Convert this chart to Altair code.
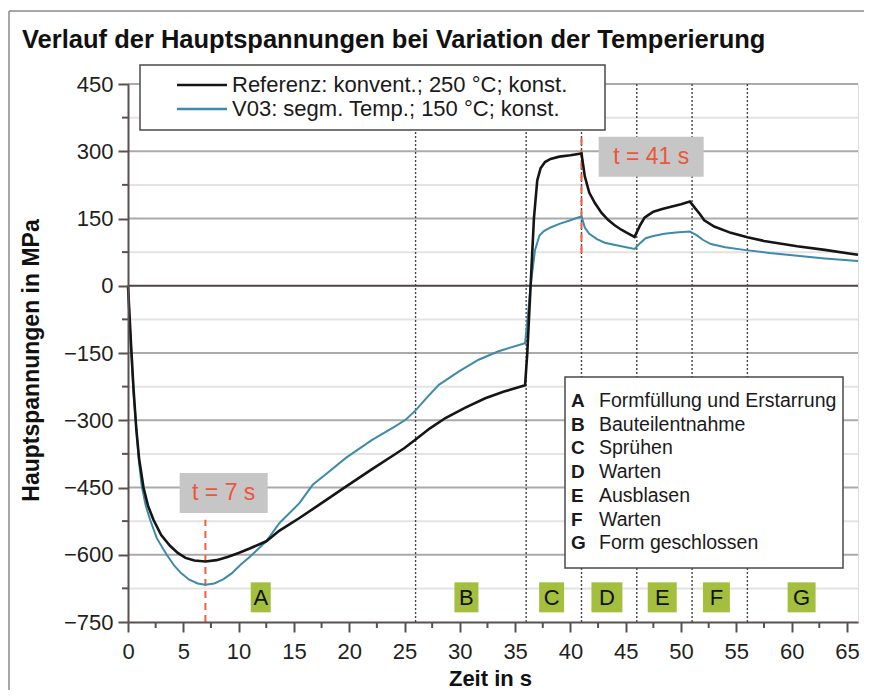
import altair as alt
import pandas as pd

FONT = "Liberation Sans"
AX = "#5a5050"

# ---------------- data ----------------
title_text = "Verlauf der Hauptspannungen bei Variation der Temperierung"
x_title = "Zeit in s"
y_title = "Hauptspannungen in MPa"
series_names = ["Referenz: konvent.; 250 °C; konst.", "V03: segm. Temp.; 150 °C; konst."]
series_colors = ["#151515", "#3d8aab"]

t_ref = [0, 0.25, 0.5, 0.75, 1.0, 1.4, 1.8, 2.3, 3.0, 3.8, 4.5, 5.2, 6.0, 7.0, 8.0, 9.0,
         10.0, 11.0, 12.5, 13.7, 15.5, 17.5, 19.7, 22.0, 24.0, 25.0, 26.0, 27.3, 28.7,
         30.5, 32.3, 34.0, 35.9, 36.1, 36.4, 36.7, 37.0, 37.3, 37.7, 38.2, 39.0, 40.0,
         41.0, 41.3, 41.7, 42.2, 42.8, 43.4, 44.0, 44.6, 45.2, 45.8, 46.3, 46.7, 47.0,
         47.5, 48.3, 49.1, 50.0, 50.8, 51.3, 51.7, 52.1, 53.0, 54.5, 56.0, 57.5, 60.5,
         63.0, 65.5, 66.0]
s_ref = [0, -120, -230, -320, -385, -450, -490, -522, -556, -580, -596, -607, -613, -615,
         -612, -605, -596, -586, -570, -546, -518, -485, -448, -410, -378, -362, -343,
         -318, -295, -272, -251, -236, -222, -150, 0, 150, 235, 262, 276, 283, 288, 291,
         295, 244, 208, 185, 163, 147, 135, 125, 117, 109, 135, 152, 157, 165, 171, 176,
         182, 188, 172, 160, 146, 132, 118, 108, 100, 88, 80, 71, 69]

t_v03 = [0, 0.25, 0.5, 0.7, 1.0, 1.25, 1.6, 2.0, 2.6, 3.5, 4.2, 4.8, 5.5, 6.3, 7.0, 7.8,
         8.6, 9.4, 10.2, 11.0, 12.5, 13.7, 15.5, 16.7, 18.0, 19.7, 22.0, 24.0, 25.1, 26.0,
         27.0, 28.1, 30.0, 31.7, 33.5, 35.9, 36.1, 36.4, 36.8, 37.2, 37.6, 38.2, 39.0,
         40.0, 41.0, 41.3, 41.7, 42.4, 43.1, 44.6, 45.8, 46.3, 46.8, 47.5, 48.5, 49.5,
         50.8, 51.4, 52.0, 52.7, 54.0, 55.7, 58.0, 60.5, 63.0, 66.0]
s_v03 = [0, -130, -240, -300, -395, -448, -490, -522, -563, -600, -625, -641, -655, -664,
         -667, -664, -655, -641, -622, -605, -570, -529, -485, -444, -418, -384, -345,
         -316, -299, -278, -250, -221, -190, -165, -146, -128, -80, 0, 80, 112, 122, 130,
         138, 146, 155, 130, 116, 104, 96, 88, 82, 95, 106, 111, 116, 119, 121, 113, 102,
         93, 86, 80, 73, 67, 61, 55]

phase_letters = ["A", "B", "C", "D", "E", "F", "G"]
phase_names = ["Formfüllung und Erstarrung", "Bauteilentnahme", "Sprühen", "Warten",
               "Ausblasen", "Warten", "Form geschlossen"]
phase_label_t = [12.0, 30.6, 38.3, 43.3, 48.3, 53.2, 60.9]
phase_label_value = -695
phase_bounds = [26, 36, 41, 46, 51, 56]

marker_t = [7, 41]
marker_from = [-750, 73]
marker_to = [-522, 333]
marker_text = ["t = 7 s", "t = 41 s"]
marker_label_t = [8.65, 47.3]
marker_label_value = [-462, 288]

x_ticks = [0, 5, 10, 15, 20, 25, 30, 35, 40, 45, 50, 55, 60, 65]
x_minor = [2.5, 7.5, 12.5, 17.5, 22.5, 27.5, 32.5, 37.5, 42.5, 47.5, 52.5, 57.5, 62.5]
y_ticks = [-750, -600, -450, -300, -150, 0, 150, 300, 450]
y_grid_major = [-600, -450, -300, -150, 150, 300, 450]
y_minor = [-675, -525, -375, -225, -75, 75, 225, 375]

# ---------------- layout ----------------
W, H = 730, 538
xs = alt.Scale(domain=[0, 66], nice=False, zero=False)
ys = alt.Scale(domain=[-750, 450], nice=False, zero=False)

x_axis = alt.Axis(values=x_ticks, title=x_title, grid=False, domainColor=AX, domainWidth=2,
                  tickColor=AX, tickWidth=2, tickSize=10, labelFont=FONT, labelFontSize=22,
                  labelColor="#231f20", labelPadding=9, labelFlush=False, labelOverlap=False,
                  titleFont=FONT, titleFontSize=22, titleFontWeight="bold", titleColor="#111",
                  titleX=362, titleY=63, titleAlign="center", titleBaseline="alphabetic",
                  zindex=1)
y_axis = alt.Axis(values=y_ticks, title=y_title, grid=False, domainColor=AX, domainWidth=2,
                  tickColor=AX, tickWidth=2, tickSize=10, labelFont=FONT, labelFontSize=22,
                  labelColor="#231f20", labelPadding=5, labelOverlap=False,
                  titleFont=FONT, titleFontSize=23, titleFontWeight="bold", titleColor="#111",
                  titleAngle=270, titleX=-90, titleY=276, titleAlign="center",
                  titleBaseline="alphabetic", zindex=1)


def X(f):
    return alt.X(f, type="quantitative", scale=xs, axis=x_axis, title=x_title)


def Y(f):
    return alt.Y(f, type="quantitative", scale=ys, axis=y_axis, title=y_title)


one = pd.DataFrame({"k": [0]})

df_ref = pd.DataFrame({"t": t_ref, "s": s_ref})
df_v03 = pd.DataFrame({"t": t_v03, "s": s_v03})
df_gmaj = pd.DataFrame({"v": y_grid_major})
df_gmin = pd.DataFrame({"v": y_minor})
df_zero = pd.DataFrame({"v": [0]})
df_bounds = pd.DataFrame({"t": phase_bounds})
df_mark = pd.DataFrame({"t": marker_t, "a": marker_from, "b": marker_to})
df_xminor = pd.DataFrame({"t": x_minor})
df_yminor = pd.DataFrame({"v": y_minor})
df_phase = pd.DataFrame({"t": phase_label_t, "v": [phase_label_value] * 7, "L": phase_letters})

box_half = {"A": 0.667, "B": 0.8, "C": 0.833, "D": 1.033, "E": 0.967, "F": 0.9, "G": 0.933}
box_paths = [f"M-{box_half[k]},-1L{box_half[k]},-1L{box_half[k]},1L-{box_half[k]},1Z" for k in phase_letters]

layers = []

# outer frame (top and left edges only; the rest lies outside the picture)
layers.append(alt.Chart(one).mark_rule(color="#8a8a8a", strokeWidth=1.5).encode(
    x=alt.value(-119), x2=alt.value(736), y=alt.value(-73)))
layers.append(alt.Chart(one).mark_rule(color="#8a8a8a", strokeWidth=1.5).encode(
    x=alt.value(-119), y=alt.value(-73), y2=alt.value(620)))

# grid
layers.append(alt.Chart(df_gmin).mark_rule(color="#e3e3e3", strokeWidth=2).encode(y=Y("v")))
layers.append(alt.Chart(df_gmaj).mark_rule(color="#aaaaaa", strokeWidth=2.2).encode(y=Y("v")))
layers.append(alt.Chart(df_zero).mark_rule(color="#4d4545", strokeWidth=2).encode(y=Y("v")))

# phase boundaries
layers.append(alt.Chart(df_bounds).mark_rule(color="#444", strokeWidth=1.4, strokeDash=[2, 2]).encode(
    x=X("t")))

# red time markers
layers.append(alt.Chart(df_mark).mark_rule(color="#f0603c", strokeWidth=2, strokeDash=[7, 5]).encode(
    x=X("t"), y=Y("a"), y2="b"))

# minor ticks
layers.append(alt.Chart(df_xminor).mark_rule(color=AX, strokeWidth=2).encode(
    x=X("t"), y=alt.value(H), y2=alt.value(H + 6)))
layers.append(alt.Chart(df_yminor).mark_rule(color=AX, strokeWidth=2).encode(
    y=Y("v"), x=alt.value(-6), x2=alt.value(0)))

# gray marker label boxes
df_m0 = pd.DataFrame({"t": [marker_label_t[0]], "v": [marker_label_value[0]]})
df_m1 = pd.DataFrame({"t": [marker_label_t[1]], "v": [marker_label_value[1]]})
layers.append(alt.Chart(df_m0).mark_point(shape="M-2.2,-1L2.2,-1L2.2,1L-2.2,1Z", size=1600, filled=True,
                                          color="#c6c6c6", opacity=1, strokeWidth=0).encode(x=X("t"), y=Y("v")))
layers.append(alt.Chart(df_m1).mark_point(shape="M-2.625,-1L2.625,-1L2.625,1L-2.625,1Z", size=1600,
                                          filled=True, color="#c6c6c6", opacity=1, strokeWidth=0).encode(
    x=X("t"), y=Y("v")))
df_mt = pd.DataFrame({"t": marker_label_t, "v": marker_label_value, "s": marker_text})
layers.append(alt.Chart(df_mt).mark_text(font=FONT, fontSize=23, color="#ee553a", baseline="middle",
                                         align="center").encode(x=X("t"), y=Y("v"), text="s:N"))

# green phase boxes
layers.append(alt.Chart(df_phase).mark_point(size=900, filled=True, color="#a3bf3d", opacity=1,
                                             strokeWidth=0).encode(
    x=X("t"), y=Y("v"),
    shape=alt.Shape("L:N", scale=alt.Scale(domain=phase_letters, range=box_paths), legend=None)))
layers.append(alt.Chart(df_phase).mark_text(font=FONT, fontSize=22, color="#111", baseline="middle",
                                            align="center", dy=1).encode(x=X("t"), y=Y("v"), text="L:N"))

# lines
layers.append(alt.Chart(df_v03).mark_line(color=series_colors[1], strokeWidth=2).encode(
    x=X("t"), y=Y("s")))
layers.append(alt.Chart(df_ref).mark_line(color=series_colors[0], strokeWidth=2.6).encode(
    x=X("t"), y=Y("s")))

# legend 1 (series)
layers.append(alt.Chart(one).mark_rect(fill="white", stroke="#4a4a4a", strokeWidth=1.5).encode(
    x=alt.value(12), x2=alt.value(477), y=alt.value(-19), y2=alt.value(46)))
leg1 = pd.DataFrame({"name": series_names, "py": [1, 25], "c": series_colors})
layers.append(alt.Chart(leg1).mark_rule(strokeWidth=2.5).encode(
    x=alt.value(49), x2=alt.value(99), y=alt.Y("py:Q", scale=None),
    color=alt.Color("c:N", scale=None)))
layers.append(alt.Chart(leg1).mark_text(font=FONT, fontSize=22, color="#1a1a1a", align="left",
                                        baseline="middle").encode(
    x=alt.value(104), y=alt.Y("py:Q", scale=None), text="name:N"))

# legend 2 (phases)
layers.append(alt.Chart(one).mark_rect(fill="white", stroke="#4a4a4a", strokeWidth=1.5).encode(
    x=alt.value(437), x2=alt.value(715), y=alt.value(293), y2=alt.value(484)))
leg2 = pd.DataFrame({"L": phase_letters, "n": phase_names,
                     "py": [317 + 23.7 * i for i in range(7)]})
layers.append(alt.Chart(leg2).mark_text(font=FONT, fontSize=19, fontWeight="bold", color="#1a1a1a",
                                        align="left", baseline="middle").encode(
    x=alt.value(443), y=alt.Y("py:Q", scale=None), text="L:N"))
layers.append(alt.Chart(leg2).mark_text(font=FONT, fontSize=19.5, color="#1a1a1a", align="left",
                                        baseline="middle").encode(
    x=alt.value(471), y=alt.Y("py:Q", scale=None), text="n:N"))

# chart title
layers.append(alt.Chart(pd.DataFrame({"s": [title_text]})).mark_text(
    font=FONT, fontSize=25.5, fontWeight="bold", color="#111", align="left", baseline="alphabetic").encode(
    x=alt.value(-106), y=alt.value(-36), text="s:N"))

chart = alt.layer(*layers).properties(
    width=W, height=H,
    autosize=alt.AutoSizeParams(type="none"),
    padding={"left": 120, "top": 76, "right": 8, "bottom": 68},
).configure_view(stroke=None).configure(background="white")

chart.save("out.html", embed_options={"renderer": "svg", "actions": False})
